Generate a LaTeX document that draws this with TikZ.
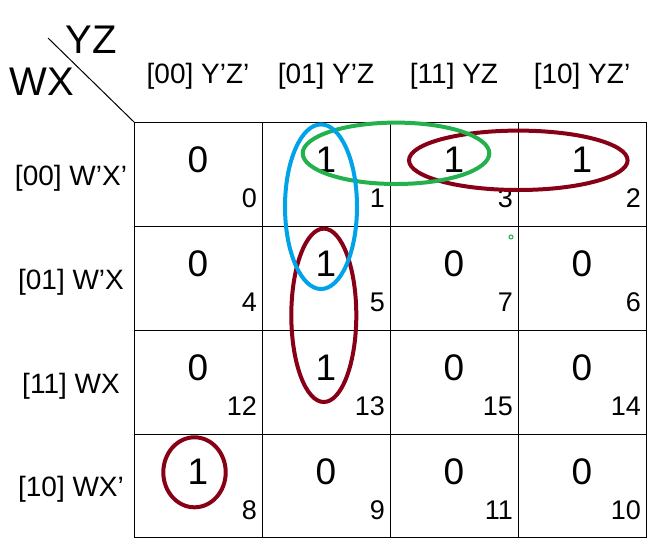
\documentclass[tikz,border=0pt]{standalone}
\usepackage{fontspec}
\setmainfont{Liberation Sans}
\definecolor{paintblue}{RGB}{0,162,232}
\definecolor{paintgreen}{RGB}{34,177,76}
\definecolor{paintred}{RGB}{136,0,21}
\tikzset{
	bigval/.style={anchor=base, inner sep=0pt, font=\fontsize{37}{40}\selectfont},
	cellno/.style={anchor=base east, inner sep=0pt, font=\fontsize{27}{30}\selectfont},
	hdr/.style={anchor=base, inner sep=0pt, font=\fontsize{28}{30}\selectfont},
	varlbl/.style={anchor=base, inner sep=0pt, font=\fontsize{40}{44}\selectfont},
	group/.style={line width=4pt}
}

\begin{document}
\begin{tikzpicture}[x=1pt, y=-1pt]
				\useasboundingbox (0,0) rectangle (660,558);
				
				% corner labels
				\node[varlbl] (yzlbl) at (91.5,53) {YZ};
				\node[varlbl] (wxlbl) at (42,95) {WX};
				\coordinate (slashtop) at (48,38);
				\coordinate (corner) at (134,122);
				\draw[line width=1pt] (slashtop) -- (corner);
				
				% column headers
				\node[hdr] (col00) at (198,83) {[00] Y’Z’};
				\node[hdr] (col01) at (326,83) {[01] Y’Z};
				\node[hdr] (col11) at (454,83) {[11] YZ};
				\node[hdr] (col10) at (582,83) {[10] YZ’};
				
				% row headers
				\node[hdr] (row00) at (71,185) {[00] W’X’};
				\node[hdr] (row01) at (71,289) {[01] W’X};
				\node[hdr] (row11) at (71,393) {[11] WX};
				\node[hdr] (row10) at (71,496.5) {[10] WX’};
				
				% grid
				\draw[line width=1pt] (134,122) rectangle (646,537);
				\draw[line width=1pt] (262,122) -- (262,537);
				\draw[line width=1pt] (390,122) -- (390,537);
				\draw[line width=1pt] (518,122) -- (518,537);
				\draw[line width=1pt] (134,226) -- (646,226);
				\draw[line width=1pt] (134,330) -- (646,330);
				\draw[line width=1pt] (134,434) -- (646,434);
				
				% row 00
				\node[bigval] (v0) at (198,172) {0};
				\node[cellno] (n0) at (257,207.5) {0};
				\node[bigval] (v1) at (326,172) {1};
				\node[cellno] (n1) at (385,207.5) {1};
				\node[bigval] (v3) at (454,172) {1};
				\node[cellno] (n3) at (513,207.5) {3};
				\node[bigval] (v2) at (582,172) {1};
				\node[cellno] (n2) at (641,207.5) {2};
				
				% row 01
				\node[bigval] (v4) at (198,276) {0};
				\node[cellno] (n4) at (257,311.5) {4};
				\node[bigval] (v5) at (326,276) {1};
				\node[cellno] (n5) at (385,311.5) {5};
				\node[bigval] (v7) at (454,276) {0};
				\node[cellno] (n7) at (513,311.5) {7};
				\node[bigval] (v6) at (582,276) {0};
				\node[cellno] (n6) at (641,311.5) {6};
				
				% row 11
				\node[bigval] (v12) at (198,380) {0};
				\node[cellno] (n12) at (257,415.5) {12};
				\node[bigval] (v13) at (326,380) {1};
				\node[cellno] (n13) at (385,415.5) {13};
				\node[bigval] (v15) at (454,380) {0};
				\node[cellno] (n15) at (513,415.5) {15};
				\node[bigval] (v14) at (582,380) {0};
				\node[cellno] (n14) at (641,415.5) {14};
				
				% row 10
				\node[bigval] (v8) at (198,484) {1};
				\node[cellno] (n8) at (257,519) {8};
				\node[bigval] (v9) at (326,484) {0};
				\node[cellno] (n9) at (385,519) {9};
				\node[bigval] (v11) at (454,484) {0};
				\node[cellno] (n11) at (513,519) {11};
				\node[bigval] (v10) at (582,484) {0};
				\node[cellno] (n10) at (641,519) {10};
				
				% groupings
				\draw[group, paintred] (518.3,160.3) ellipse (109.3 and 29.7);
				\draw[group, paintred] (323.8,315.3) ellipse (32.5 and 86.7);
				\draw[group, paintred] (194.5,472.3) ellipse (31.2 and 35);
				\draw[group, paintgreen] (396,153.3) ellipse (93.3 and 30.7);
				\draw[group, paintblue] (321,206.7) ellipse (36 and 82.3);
				\draw[paintgreen, line width=1pt] (511,237) circle (2);
			\end{tikzpicture}
\end{document}
